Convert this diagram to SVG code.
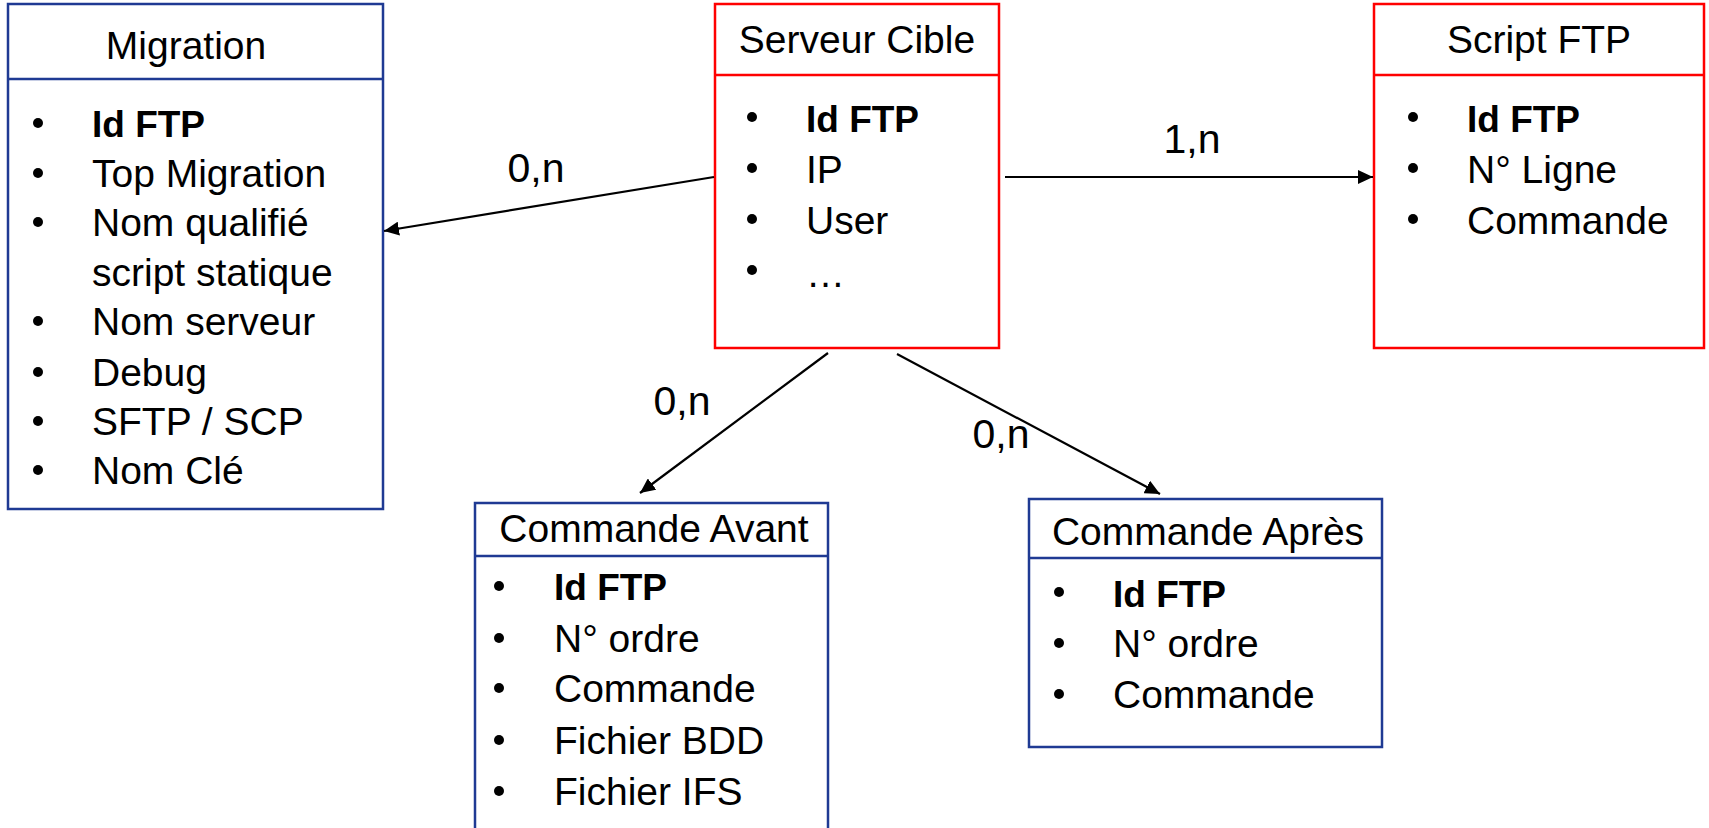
<svg xmlns="http://www.w3.org/2000/svg" width="1709" height="828" viewBox="0 0 1709 828">
  <style>
    text { font-family: "Liberation Sans", Arial, sans-serif; font-size: 39px; fill: #000; }
    .title { text-anchor: middle; }
    .b { font-weight: bold; font-size: 37px; }
    .lbl { text-anchor: middle; font-size: 41px; }
    .blue { fill: #fff; stroke: #1F3A93; stroke-width: 2.5; }
    .red { fill: #fff; stroke: #FF0000; stroke-width: 2.5; }
    .divb { stroke: #1F3A93; stroke-width: 2.5; }
    .divr { stroke: #FF0000; stroke-width: 2.5; }
    .dot { fill: #000; }
    .conn { stroke: #000; stroke-width: 2.2; fill: none; marker-end: url(#arrow); }
  </style>
  <defs>
    <marker id="arrow" markerUnits="userSpaceOnUse" markerWidth="16" markerHeight="14" refX="15" refY="7" orient="auto">
      <path d="M0,0 L15,7 L0,14 z" fill="#000"/>
    </marker>
  </defs>
  <rect width="1709" height="828" fill="#fff"/>

  <g id="migration">
    <rect class="blue" x="8" y="4" width="375" height="505"/>
    <line class="divb" x1="8" y1="79" x2="383" y2="79"/>
    <text class="title" x="186" y="59">Migration</text>
    <circle class="dot" cx="38" cy="123" r="5"/>
    <text class="b" x="92" y="137">Id FTP</text>
    <circle class="dot" cx="38" cy="173" r="5"/>
    <text x="92" y="187">Top Migration</text>
    <circle class="dot" cx="38" cy="222" r="5"/>
    <text x="92" y="236">Nom qualifié</text>
    <text x="92" y="286">script statique</text>
    <circle class="dot" cx="38" cy="321" r="5"/>
    <text x="92" y="335">Nom serveur</text>
    <circle class="dot" cx="38" cy="372" r="5"/>
    <text x="92" y="386">Debug</text>
    <circle class="dot" cx="38" cy="421" r="5"/>
    <text x="92" y="435">SFTP / SCP</text>
    <circle class="dot" cx="38" cy="470" r="5"/>
    <text x="92" y="484">Nom Clé</text>
  </g>

  <g id="serveur-cible">
    <rect class="red" x="715" y="4" width="284" height="344"/>
    <line class="divr" x1="715" y1="75" x2="999" y2="75"/>
    <text class="title" x="857" y="53">Serveur Cible</text>
    <circle class="dot" cx="752" cy="117" r="5"/>
    <text class="b" x="806" y="132">Id FTP</text>
    <circle class="dot" cx="752" cy="168" r="5"/>
    <text x="806" y="183">IP</text>
    <circle class="dot" cx="752" cy="219" r="5"/>
    <text x="806" y="234">User</text>
    <circle class="dot" cx="752" cy="270" r="5"/>
    <text x="806" y="287">…</text>
  </g>

  <g id="script-ftp">
    <rect class="red" x="1374" y="4" width="330" height="344"/>
    <line class="divr" x1="1374" y1="75" x2="1704" y2="75"/>
    <text class="title" x="1539" y="53">Script FTP</text>
    <circle class="dot" cx="1413" cy="117" r="5"/>
    <text class="b" x="1467" y="132">Id FTP</text>
    <circle class="dot" cx="1413" cy="168" r="5"/>
    <text x="1467" y="183">N° Ligne</text>
    <circle class="dot" cx="1413" cy="219" r="5"/>
    <text x="1467" y="234">Commande</text>
  </g>

  <g id="commande-avant">
    <rect class="blue" x="475" y="503" width="353" height="400"/>
    <line class="divb" x1="475" y1="556" x2="828" y2="556"/>
    <text class="title" x="654" y="542">Commande Avant</text>
    <circle class="dot" cx="499" cy="586" r="5"/>
    <text class="b" x="554" y="600">Id FTP</text>
    <circle class="dot" cx="499" cy="638" r="5"/>
    <text x="554" y="652">N° ordre</text>
    <circle class="dot" cx="499" cy="688" r="5"/>
    <text x="554" y="702">Commande</text>
    <circle class="dot" cx="499" cy="740" r="5"/>
    <text x="554" y="754">Fichier BDD</text>
    <circle class="dot" cx="499" cy="791" r="5"/>
    <text x="554" y="805">Fichier IFS</text>
  </g>

  <g id="commande-apres">
    <rect class="blue" x="1029" y="499" width="353" height="248"/>
    <line class="divb" x1="1029" y1="558" x2="1382" y2="558"/>
    <text class="title" x="1208" y="545">Commande Après</text>
    <circle class="dot" cx="1059" cy="592" r="5"/>
    <text class="b" x="1113" y="607">Id FTP</text>
    <circle class="dot" cx="1059" cy="643" r="5"/>
    <text x="1113" y="657">N° ordre</text>
    <circle class="dot" cx="1059" cy="694" r="5"/>
    <text x="1113" y="708">Commande</text>
  </g>

  <g id="connectors">
    <line class="conn" x1="714" y1="177" x2="384" y2="231"/>
    <line class="conn" x1="1005" y1="177" x2="1373" y2="177"/>
    <line class="conn" x1="828" y1="353" x2="640" y2="493"/>
    <line class="conn" x1="897" y1="354" x2="1160" y2="494"/>
    <text class="lbl" x="536" y="182">0,n</text>
    <text class="lbl" x="1192" y="153">1,n</text>
    <text class="lbl" x="682" y="415">0,n</text>
    <text class="lbl" x="1001" y="448">0,n</text>
  </g>
</svg>
